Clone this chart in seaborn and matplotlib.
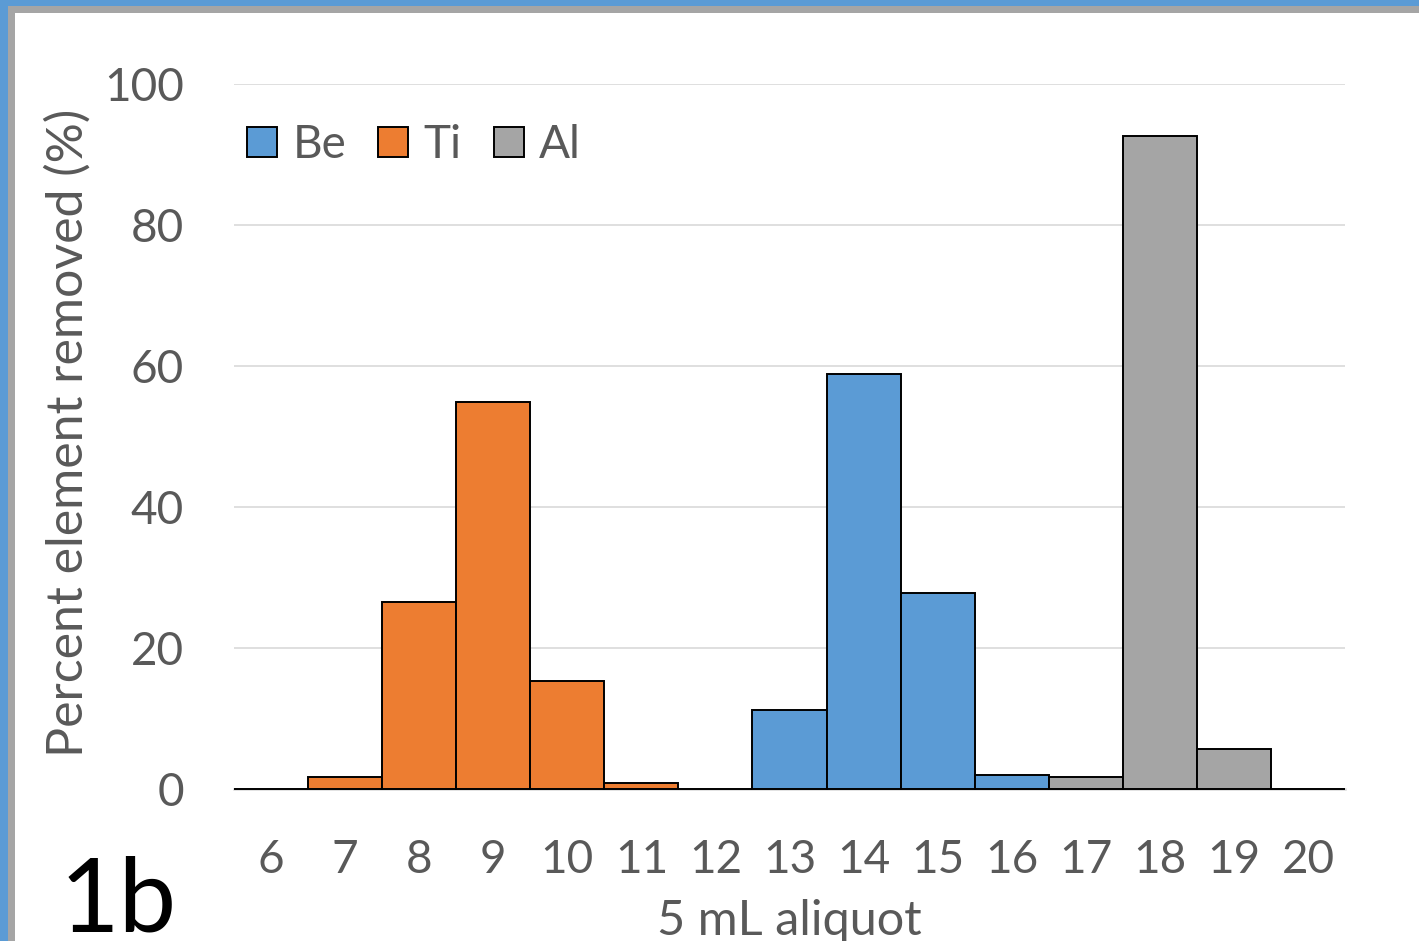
import matplotlib
matplotlib.use("Agg")
import matplotlib.pyplot as plt
from matplotlib.patches import Rectangle
import pandas as pd
import seaborn as sns

# Elution profile: percent of each element removed per 5 mL aliquot
aliquots = [6, 7, 8, 9, 10, 11, 12, 13, 14, 15, 16, 17, 18, 19, 20]
elements = ["Ti", "Ti", "Ti", "Ti", "Ti", "Ti", "Be", "Be", "Be", "Be", "Be",
            "Al", "Al", "Al", "Al"]
percent_removed = [0.0, 1.6, 26.5, 54.8, 15.3, 0.8, 0.0, 11.2, 58.8, 27.8, 1.9,
                   1.7, 92.6, 5.6, 0.0]
element_order = ["Be", "Ti", "Al"]
element_colors = {"Be": "#5B9BD5", "Ti": "#ED7D31", "Al": "#A5A5A5"}
y_ticks = [0, 20, 40, 60, 80, 100]

df = pd.DataFrame({"aliquot": aliquots, "element": elements,
                   "percent": percent_removed})

sns.set_theme(style="white")
plt.rcParams["font.family"] = ["Lato", "DejaVu Sans"]

W, H = 1419, 941
fig = plt.figure(figsize=(W / 100, H / 100), dpi=100)
fig.patch.set_facecolor("white")

# Slide frame: blue band with grey inner border along top and left
fig.patches.append(Rectangle((0, 1 - 6 / H), 1, 6 / H, transform=fig.transFigure,
                             facecolor="#5B9BD5", edgecolor="none", zorder=0))
fig.patches.append(Rectangle((0, 0), 8 / W, 1, transform=fig.transFigure,
                             facecolor="#5B9BD5", edgecolor="none", zorder=0))
fig.patches.append(Rectangle((8 / W, 1 - 13 / H), 1, 7 / H, transform=fig.transFigure,
                             facecolor="#A5A5A5", edgecolor="none", zorder=0))
fig.patches.append(Rectangle((8 / W, 0), 7 / W, 1 - 6 / H, transform=fig.transFigure,
                             facecolor="#A5A5A5", edgecolor="none", zorder=0))

left, right = 234 / W, 1345 / W
bottom, top = 1 - 788.7 / H, 1 - 83.7 / H
ax = fig.add_axes([left, bottom, right - left, top - bottom])

sns.barplot(data=df, x="aliquot", y="percent", hue="element",
            order=aliquots, hue_order=element_order, palette=element_colors,
            dodge=False, width=1.0, edgecolor="black", linewidth=1.4,
            saturation=1.0, ax=ax, legend=True)

for p in ax.patches:
    p.set_clip_on(False)
    p.set_zorder(3)

ax.set_xlim(-0.5, len(aliquots) - 0.5)
ax.set_ylim(0, 100)
ax.set_yticks(y_ticks)
ax.yaxis.grid(True, color="#D9D9D9", linewidth=1.2)
ax.xaxis.grid(False)
ax.set_axisbelow(True)
for side in ["top", "right", "left"]:
    ax.spines[side].set_visible(False)
ax.spines["bottom"].set_color("#D9D9D9")
ax.spines["bottom"].set_linewidth(1.8)
ax.spines["bottom"].set_zorder(1)

ax.tick_params(axis="both", length=0, labelsize=33, labelcolor="#595959")
ax.tick_params(axis="x", pad=36)
ax.tick_params(axis="y", pad=36)

ax.set_xlabel("")
ax.set_ylabel("")
fig.text(68 / W, 1 - 433 / H, "Percent element removed (%)", rotation=90,
         ha="center", va="center", fontsize=36, color="#595959")
fig.text(789 / W, 1 - 935 / H, "5 mL aliquot", ha="center", va="baseline",
         fontsize=35, color="#595959")
fig.text(60 / W, 1 - 932 / H, "1b", ha="left", va="baseline",
         fontsize=74, color="black")

handles, labels = ax.get_legend_handles_labels()
ax.legend(handles=handles, labels=labels, loc="center left",
          bbox_to_anchor=(247 / W, 1 - 145 / H), bbox_transform=fig.transFigure,
          ncol=3, frameon=False, fontsize=33, labelcolor="#595959",
          handlelength=0.65, handleheight=0.65, handletextpad=0.34,
          columnspacing=0.7, borderpad=0, borderaxespad=0)

fig.savefig("out.png", dpi=100)
